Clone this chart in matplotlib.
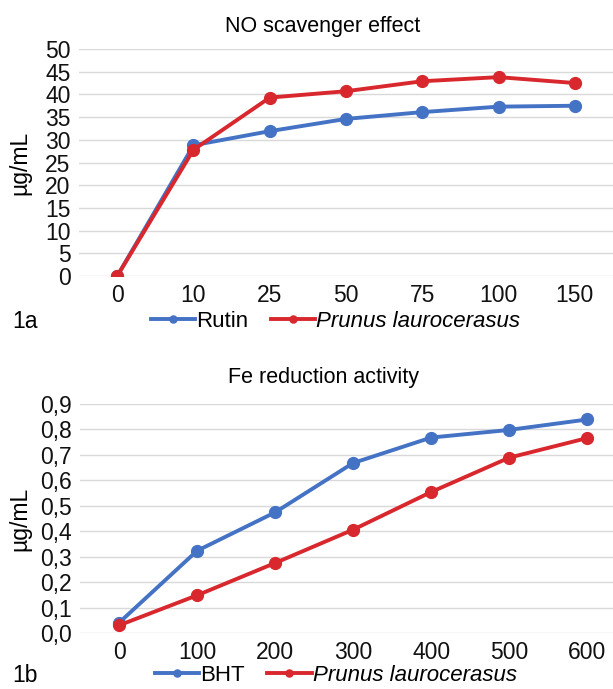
import numpy as np
import matplotlib.pyplot as plt
from matplotlib.ticker import FuncFormatter

plt.rcParams['font.family'] = ['Liberation Sans', 'DejaVu Sans']

# Panel 1a - NO scavenger effect
no_conc = ['0', '10', '25', '50', '75', '100', '150']
rutin = [0, 28.8, 31.9, 34.6, 36.1, 37.3, 37.5]
prunus_no = [0, 27.8, 39.3, 40.7, 42.9, 43.8, 42.5]

# Panel 1b - Fe reduction activity
fe_conc = ['0', '100', '200', '300', '400', '500', '600']
bht = [0.04, 0.323, 0.474, 0.668, 0.768, 0.798, 0.839]
prunus_fe = [0.03, 0.148, 0.275, 0.406, 0.554, 0.689, 0.766]

blue = '#4472C4'
red = '#D8282E'

fig = plt.figure(figsize=(6.13, 6.89), dpi=100)


def panel(rect, cats, s1, s2, name1, title, yticks, ylim, fmt, xmax, title_pad, leg_y):
    ax = fig.add_axes(rect)
    x = np.arange(len(cats))
    ax.plot(x, s1, color=blue, lw=2.8, marker='o', ms=8.5, label=name1, zorder=3)
    ax.plot(x, s2, color=red, lw=2.8, marker='o', ms=8.5,
            label='Prunus laurocerasus', zorder=4)
    ax.set_xlim(-0.5, xmax)
    ax.set_ylim(*ylim)
    ax.set_yticks(yticks)
    ax.yaxis.set_major_formatter(FuncFormatter(fmt))
    ax.set_xticks(x)
    ax.set_xticklabels(cats)
    ax.tick_params(length=0, labelsize=16.5, colors='#111111')
    ax.tick_params(axis='x', pad=6)
    ax.tick_params(axis='y', pad=6)
    ax.grid(axis='y', color='#D9D9D9', lw=1)
    ax.set_axisbelow(True)
    for s in ax.spines.values():
        s.set_visible(False)
    cx = (323 - rect[0] * 613) / (rect[2] * 613)
    ax.set_title(title, fontsize=15.5, pad=title_pad, x=cx)
    ax.set_ylabel('µg/mL', fontsize=16.5)
    ax.yaxis.set_label_coords((31 - rect[0] * 613) / (rect[2] * 613), 0.5)
    leg = ax.legend(loc='center', bbox_to_anchor=(0.48, leg_y), ncol=2,
                    frameon=False, fontsize=16, handlelength=2.0,
                    handletextpad=0.05, columnspacing=1.0, markerscale=0.6)
    leg.get_texts()[1].set_style('italic')
    return ax


panel([0.129, 0.5994, 0.871, 0.3295], no_conc, rutin, prunus_no, 'Rutin',
      'NO scavenger effect', np.arange(0, 51, 5), (0, 50),
      lambda v, p: f'{v:.0f}', 6.5, 12, -0.2)
panel([0.1305, 0.0813, 0.8695, 0.3324], fe_conc, bht, prunus_fe, 'BHT',
      'Fe reduction activity', np.arange(0, 0.91, 0.1), (0, 0.9),
      lambda v, p: f'{v:.1f}'.replace('.', ','), 6.33, 15, -0.185)

fig.text(12 / 613, 1 - 322 / 689, '1a', fontsize=16.5, va='center')
fig.text(12 / 613, 1 - 676 / 689, '1b', fontsize=16.5, va='center')

fig.savefig('out.png', dpi=100)
